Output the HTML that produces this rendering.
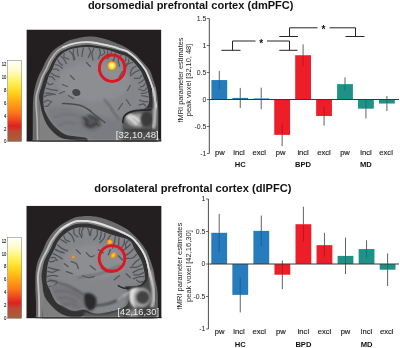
<!DOCTYPE html>
<html><head><meta charset="utf-8"><title>fMRI figure</title>
<style>html,body{margin:0;padding:0;background:#fff}svg{display:block}</style></head>
<body>
<svg width="400" height="348" viewBox="0 0 400 348" style="font-family:'Liberation Sans',sans-serif">
<defs>
<linearGradient id="cb" x1="0" y1="0" x2="0" y2="1">
<stop offset="0" stop-color="#ffffff"/>
<stop offset="0.14" stop-color="#fffbc0"/>
<stop offset="0.28" stop-color="#fff050"/>
<stop offset="0.40" stop-color="#ffd21a"/>
<stop offset="0.52" stop-color="#ffa514"/>
<stop offset="0.64" stop-color="#fb7a18"/>
<stop offset="0.74" stop-color="#ee4520"/>
<stop offset="0.81" stop-color="#dc2222"/>
<stop offset="0.88" stop-color="#bf4a34"/>
<stop offset="1" stop-color="#a0623f"/>
</linearGradient>
<radialGradient id="hot"><stop offset="0" stop-color="#fffde4"/><stop offset="0.35" stop-color="#fff060"/><stop offset="0.62" stop-color="#ffd21a"/><stop offset="0.82" stop-color="#ffa014" stop-opacity="0.95"/><stop offset="1" stop-color="#e86818" stop-opacity="0"/></radialGradient>
<radialGradient id="hot2"><stop offset="0" stop-color="#ffd428"/><stop offset="0.6" stop-color="#ffa216"/><stop offset="1" stop-color="#f07018" stop-opacity="0"/></radialGradient>
<radialGradient id="hot3"><stop offset="0" stop-color="#ffb01a"/><stop offset="0.5" stop-color="#f08a1a" stop-opacity="0.9"/><stop offset="1" stop-color="#e07018" stop-opacity="0"/></radialGradient>
<filter id="b0" x="-20%" y="-20%" width="140%" height="140%"><feGaussianBlur stdDeviation="0.35"/></filter>
<filter id="b1" x="-20%" y="-20%" width="140%" height="140%"><feGaussianBlur stdDeviation="0.6"/></filter>
<filter id="b2" x="-20%" y="-20%" width="140%" height="140%"><feGaussianBlur stdDeviation="1.2"/></filter>
<filter id="b3" x="-30%" y="-30%" width="160%" height="160%"><feGaussianBlur stdDeviation="2.2"/></filter>
<clipPath id="clipA"><rect x="0" y="0" width="135" height="112"/></clipPath>
<clipPath id="clipB"><rect x="0" y="0" width="135.3" height="112.6"/></clipPath>
</defs>
<rect width="400" height="348" fill="#fff"/>

<text x="190.7" y="9.3" text-anchor="middle" font-size="11.05" font-weight="bold" fill="#111">dorsomedial prefrontal cortex (dmPFC)</text>
<text x="192.8" y="191.5" text-anchor="middle" font-size="11.1" font-weight="bold" fill="#111">dorsolateral prefrontal cortex (dlPFC)</text>
<rect x="7.7" y="60.5" width="14.0" height="81" fill="url(#cb)" stroke="#777" stroke-width="0.5"/>
<text x="6.4" y="143.45" text-anchor="end" font-size="5.4" textLength="2.4" lengthAdjust="spacingAndGlyphs" fill="#151515" stroke="#151515" stroke-width="0.1">0</text>
<text x="6.4" y="130.50" text-anchor="end" font-size="5.4" textLength="2.4" lengthAdjust="spacingAndGlyphs" fill="#151515" stroke="#151515" stroke-width="0.1">2</text>
<text x="6.4" y="117.55" text-anchor="end" font-size="5.4" textLength="2.4" lengthAdjust="spacingAndGlyphs" fill="#151515" stroke="#151515" stroke-width="0.1">4</text>
<text x="6.4" y="104.60" text-anchor="end" font-size="5.4" textLength="2.4" lengthAdjust="spacingAndGlyphs" fill="#151515" stroke="#151515" stroke-width="0.1">6</text>
<text x="6.4" y="91.65" text-anchor="end" font-size="5.4" textLength="2.4" lengthAdjust="spacingAndGlyphs" fill="#151515" stroke="#151515" stroke-width="0.1">8</text>
<text x="6.4" y="78.70" text-anchor="end" font-size="5.4" textLength="4.6" lengthAdjust="spacingAndGlyphs" fill="#151515" stroke="#151515" stroke-width="0.1">10</text>
<text x="6.4" y="65.75" text-anchor="end" font-size="5.4" textLength="4.6" lengthAdjust="spacingAndGlyphs" fill="#151515" stroke="#151515" stroke-width="0.1">12</text>
<rect x="7.7" y="237.3" width="14.0" height="81" fill="url(#cb)" stroke="#777" stroke-width="0.5"/>
<text x="6.4" y="320.25" text-anchor="end" font-size="5.4" textLength="2.4" lengthAdjust="spacingAndGlyphs" fill="#151515" stroke="#151515" stroke-width="0.1">0</text>
<text x="6.4" y="307.30" text-anchor="end" font-size="5.4" textLength="2.4" lengthAdjust="spacingAndGlyphs" fill="#151515" stroke="#151515" stroke-width="0.1">2</text>
<text x="6.4" y="294.35" text-anchor="end" font-size="5.4" textLength="2.4" lengthAdjust="spacingAndGlyphs" fill="#151515" stroke="#151515" stroke-width="0.1">4</text>
<text x="6.4" y="281.40" text-anchor="end" font-size="5.4" textLength="2.4" lengthAdjust="spacingAndGlyphs" fill="#151515" stroke="#151515" stroke-width="0.1">6</text>
<text x="6.4" y="268.45" text-anchor="end" font-size="5.4" textLength="2.4" lengthAdjust="spacingAndGlyphs" fill="#151515" stroke="#151515" stroke-width="0.1">8</text>
<text x="6.4" y="255.50" text-anchor="end" font-size="5.4" textLength="4.6" lengthAdjust="spacingAndGlyphs" fill="#151515" stroke="#151515" stroke-width="0.1">10</text>
<text x="6.4" y="242.55" text-anchor="end" font-size="5.4" textLength="4.6" lengthAdjust="spacingAndGlyphs" fill="#151515" stroke="#151515" stroke-width="0.1">12</text>
<g transform="translate(26.4,29.5)" clip-path="url(#clipA)">
<rect x="0" y="0" width="135" height="112" fill="#231f20"/>
<path d="M6.3 116.0C6.3 111.7 6.4 96.8 6.4 90.0C6.4 83.2 6.4 79.1 6.5 75.0C6.6 70.9 6.8 68.8 7.2 65.5C7.6 62.2 8.3 58.7 9.1 55.5C9.9 52.3 11.1 49.2 12.2 46.5C13.3 43.8 14.5 42.2 15.8 39.5C17.1 36.8 18.2 33.6 20.1 30.5C22.0 27.4 24.2 23.6 27.1 20.8C30.0 18.0 34.7 15.5 37.5 13.8C40.3 12.1 41.9 11.4 44.0 10.6C46.1 9.8 48.0 9.4 50.0 8.9C52.0 8.4 54.0 8.0 56.0 7.7C58.0 7.4 59.9 7.2 62.0 7.1C64.1 7.0 65.4 6.8 68.6 7.3C71.8 7.8 77.6 9.2 81.0 10.2C84.4 11.2 86.2 12.1 89.0 13.3C91.8 14.5 95.1 15.6 98.1 17.2C101.1 18.8 104.2 20.8 107.0 23.0C109.8 25.2 111.9 27.6 114.6 30.5C117.3 33.4 121.1 37.3 123.1 40.5C125.1 43.7 125.5 46.6 126.6 49.5C127.6 52.4 128.7 55.1 129.4 58.0C130.1 60.9 130.6 63.7 131.0 67.0C131.4 70.3 131.7 74.2 131.8 78.0C131.9 81.8 131.9 83.7 131.8 90.0C131.8 96.3 131.6 111.7 131.5 116.0Z" fill="#6a6a6a" filter="url(#b1)"/>
<path d="M11.2 116.0C11.1 111.7 10.9 96.8 10.6 90.0C10.3 83.2 9.7 79.1 9.6 75.0C9.5 70.9 9.5 68.8 10.1 65.5C10.7 62.2 12.1 58.7 13.1 55.5C14.1 52.3 15.0 49.1 16.1 46.5C17.2 43.9 18.3 42.7 19.6 40.0C20.9 37.3 22.2 33.6 24.1 30.5C26.0 27.4 28.8 23.7 30.8 21.6C32.8 19.6 33.9 19.3 36.0 18.2C38.1 17.1 40.8 15.9 43.6 15.0C46.4 14.1 50.3 13.4 53.0 13.0C55.7 12.6 57.8 12.5 60.0 12.5C62.2 12.5 63.5 12.6 66.0 12.9C68.5 13.2 71.7 13.9 74.9 14.6C78.1 15.2 81.9 16.0 85.0 16.8C88.1 17.6 91.2 18.6 93.6 19.4C96.0 20.1 97.8 20.4 99.6 21.3C101.4 22.2 102.6 23.1 104.5 24.6C106.4 26.1 108.7 27.9 111.1 30.5C113.5 33.1 117.1 37.3 119.1 40.5C121.1 43.7 121.9 46.6 123.1 49.5C124.3 52.4 125.2 55.1 126.1 58.0C126.9 60.9 127.6 63.7 128.2 67.0C128.8 70.3 129.5 73.2 129.8 78.0C130.1 82.8 130.0 89.7 130.0 96.0C130.0 102.3 130.0 112.7 130.0 116.0Z" fill="#7e7e7e" filter="url(#b1)"/>
<path d="M13.3 116.0C13.3 111.7 13.4 96.8 13.3 90.0C13.2 83.2 13.0 79.1 12.9 75.0C12.8 70.9 12.4 68.8 12.8 65.5C13.2 62.2 14.6 58.8 15.6 55.5C16.6 52.2 17.7 48.6 18.8 46.0C19.9 43.4 21.0 42.6 22.4 40.0C23.8 37.4 25.3 33.3 27.1 30.5C28.9 27.7 31.1 24.8 33.2 23.0C35.3 21.2 37.2 20.5 39.5 19.5C41.8 18.5 44.4 17.7 47.0 17.1C49.6 16.5 52.4 16.0 55.0 15.7C57.6 15.4 59.1 15.1 62.4 15.3C65.7 15.5 71.2 16.3 75.0 16.9C78.8 17.5 81.9 18.2 85.0 19.0C88.1 19.8 91.2 20.7 93.6 21.4C96.0 22.1 97.8 22.4 99.6 23.2C101.4 24.0 102.5 24.7 104.3 26.0C106.1 27.3 108.1 28.7 110.4 31.2C112.8 33.7 116.4 38.1 118.4 41.2C120.4 44.3 121.2 47.1 122.4 50.0C123.6 52.9 124.6 55.5 125.4 58.4C126.2 61.3 126.9 64.0 127.5 67.3C128.1 70.6 128.7 73.4 129.0 78.0C129.3 82.6 129.2 88.7 129.2 95.0C129.2 101.3 129.2 112.5 129.2 116.0Z" fill="#303030" filter="url(#b1)"/>
<path d="M11.2 116.0C11.1 111.7 10.9 96.8 10.6 90.0C10.3 83.2 9.7 79.1 9.6 75.0C9.5 70.9 9.5 68.8 10.1 65.5C10.7 62.2 12.1 58.7 13.1 55.5C14.1 52.3 15.0 49.1 16.1 46.5C17.2 43.9 18.3 42.7 19.6 40.0C20.9 37.3 22.2 33.6 24.1 30.5C26.0 27.4 28.8 23.7 30.8 21.6C32.8 19.6 33.9 19.3 36.0 18.2C38.1 17.1 40.8 15.9 43.6 15.0C46.4 14.1 50.3 13.4 53.0 13.0C55.7 12.6 57.8 12.5 60.0 12.5C62.2 12.5 63.5 12.6 66.0 12.9C68.5 13.2 71.7 13.9 74.9 14.6C78.1 15.2 81.9 16.0 85.0 16.8C88.1 17.6 91.2 18.6 93.6 19.4C96.0 20.1 97.8 20.4 99.6 21.3C101.4 22.2 102.6 23.1 104.5 24.6C106.4 26.1 108.7 27.9 111.1 30.5C113.5 33.1 117.1 37.3 119.1 40.5C121.1 43.7 121.9 46.6 123.1 49.5C124.3 52.4 125.2 55.1 126.1 58.0C126.9 60.9 127.6 63.7 128.2 67.0C128.8 70.3 129.5 73.2 129.8 78.0C130.1 82.8 130.0 93.0 130.0 96.0" fill="none" stroke="#b6b6b6" stroke-width="1.5" filter="url(#b1)"/>
<path d="M36.0 18.2C37.3 17.7 40.8 15.9 43.6 15.0C46.4 14.1 50.3 13.4 53.0 13.0C55.7 12.6 57.8 12.5 60.0 12.5C62.2 12.5 63.5 12.6 66.0 12.9C68.5 13.2 71.7 13.9 74.9 14.6C78.1 15.2 81.9 16.0 85.0 16.8C88.1 17.6 91.2 18.6 93.6 19.4C96.0 20.1 97.8 20.4 99.6 21.3C101.4 22.2 102.6 23.1 104.5 24.6C106.4 26.1 108.7 27.9 111.1 30.5C113.5 33.1 117.1 37.3 119.1 40.5C121.1 43.7 121.9 46.6 123.1 49.5C124.3 52.4 125.2 55.1 126.1 58.0C126.9 60.9 127.6 63.7 128.2 67.0C128.8 70.3 129.5 76.2 129.8 78.0" fill="none" stroke="#dcdcdc" stroke-width="1.6" filter="url(#b1)"/>
<path d="M17.1 75.0C16.8 72.1 16.7 68.8 17.1 65.5C17.5 62.2 18.7 58.8 19.6 55.5C20.5 52.2 21.6 48.5 22.6 46.0C23.6 43.5 24.4 43.1 25.6 40.5C26.9 37.9 28.4 33.2 30.1 30.5C31.9 27.8 33.6 25.8 36.1 24.0C38.6 22.2 41.9 20.6 45.0 19.6C48.1 18.6 52.1 18.2 55.0 17.8C57.9 17.4 59.1 17.3 62.4 17.5C65.7 17.7 71.2 18.6 75.0 19.2C78.8 19.8 82.0 20.5 85.0 21.4C88.0 22.3 90.6 23.6 93.0 24.4C95.4 25.2 97.5 25.3 99.6 26.4C101.7 27.5 103.4 28.8 105.8 31.2C108.2 33.5 111.8 37.5 113.8 40.5C115.8 43.5 116.6 46.4 117.8 49.5C119.0 52.6 120.4 55.7 121.2 59.2C122.0 62.8 123.0 67.9 122.8 71.0C122.6 74.1 121.8 76.3 120.0 78.0C118.2 79.7 114.6 80.3 112.0 81.0C109.4 81.7 106.6 81.2 104.4 82.0C102.2 82.8 100.2 83.0 99.0 86.0C97.8 89.0 95.7 97.0 97.5 100.0C99.3 103.0 104.9 103.3 110.0 104.0C115.1 104.7 125.0 102.0 128.0 104.0C131.0 106.0 137.7 114.0 128.0 116.0C118.3 118.0 81.3 117.2 70.0 116.0C58.7 114.8 63.3 110.0 60.0 108.5C56.7 107.0 53.7 107.7 50.0 107.0C46.3 106.3 41.9 106.5 38.0 104.5C34.1 102.5 29.7 98.6 26.5 95.0C23.3 91.4 20.6 86.3 19.0 83.0C17.4 79.7 17.4 77.9 17.1 75.0Z" fill="#85868a" filter="url(#b1)"/>
<ellipse cx="68" cy="52" rx="36" ry="20" fill="#8f9094" opacity="0.8" filter="url(#b3)"/>
<path d="M12.9 68.0C13.1 69.5 13.7 74.2 14.3 77.0C14.9 79.8 15.1 81.8 16.3 85.0C17.5 88.2 18.7 92.8 21.5 96.5C24.3 100.2 28.8 105.1 33.0 107.5C37.2 109.9 42.5 110.0 47.0 110.8C51.5 111.6 55.8 111.6 60.0 112.5C64.2 113.4 70.0 115.4 72.0 116.0L12.9 116Z" fill="#808080" filter="url(#b1)"/>
<path d="M18.4 76.8C18.9 76.8 20.3 77.2 21.2 76.6C22.1 76.0 23.4 73.9 23.9 73.3M17.9 72.5C18.5 72.2 20.0 70.9 21.3 70.9C22.6 70.9 24.8 72.3 25.5 72.5M17.9 67.0C18.5 66.7 20.2 65.8 21.5 65.5C22.8 65.2 25.2 65.2 25.9 65.2M18.4 63.7C19.2 63.7 21.7 63.3 23.4 63.6C25.2 63.8 28.0 64.8 28.9 65.1M19.6 58.7C20.5 59.0 22.8 59.9 24.7 60.2C26.5 60.6 29.7 60.9 30.8 61.0M21.2 53.2C21.5 53.6 22.1 55.1 23.0 55.2C23.9 55.3 26.1 54.2 26.7 54.0M23.0 47.2C23.5 47.3 24.8 46.8 25.7 47.4C26.6 47.9 27.9 49.9 28.3 50.4M24.8 43.6C25.4 44.0 26.8 45.4 28.2 46.0C29.5 46.7 32.2 47.2 33.0 47.4M26.8 39.9C27.2 39.8 28.7 39.2 29.6 39.4C30.5 39.6 31.9 40.7 32.4 41.0M28.9 35.1C29.5 35.3 31.3 35.4 32.4 36.0C33.6 36.6 35.4 38.3 36.0 38.7M31.4 30.3C31.7 30.8 32.2 32.3 33.0 33.2C33.8 34.1 35.5 35.3 36.1 35.8M34.6 26.8C35.1 27.3 36.6 28.4 37.5 29.7C38.4 30.9 39.6 33.4 40.0 34.1M37.9 24.0C37.8 24.6 36.9 26.7 37.7 27.6C38.5 28.5 41.7 29.3 42.5 29.6M43.0 21.5C43.5 22.1 45.4 23.6 46.2 25.1C47.0 26.6 47.3 29.6 47.5 30.5M47.1 20.0C47.1 20.8 46.7 22.9 47.0 24.5C47.2 26.1 48.3 28.6 48.5 29.5M51.1 19.3C51.1 19.9 50.9 21.4 51.0 22.6C51.2 23.8 51.8 25.9 52.0 26.5M57.1 18.5C57.0 19.1 56.3 20.9 56.1 22.2C55.8 23.6 55.6 26.0 55.5 26.8M62.4 18.3C62.7 19.0 64.3 21.0 64.2 22.6C64.1 24.2 62.3 27.0 61.9 27.8M67.3 19.0C67.0 19.8 65.6 22.3 65.5 24.2C65.4 26.1 66.5 29.6 66.7 30.7M72.9 19.7C73.1 20.5 74.2 22.7 74.0 24.3C73.8 25.9 72.1 28.4 71.8 29.2M77.3 20.5C77.5 21.0 78.7 22.5 78.3 23.4C77.9 24.3 75.5 25.6 74.9 26.1M81.3 21.4C81.3 21.9 81.6 23.4 81.1 24.4C80.6 25.5 78.7 27.2 78.3 27.7M85.2 22.3C84.9 22.9 84.5 24.5 83.7 25.7C83.0 26.9 81.3 28.7 80.8 29.3M89.0 23.7C88.8 24.6 88.5 27.0 87.9 28.7C87.4 30.4 85.9 33.1 85.5 34.0M94.8 25.8C94.3 26.5 92.0 28.3 91.8 30.2C91.5 32.0 92.9 35.6 93.1 36.7M99.4 27.2C99.4 27.7 99.7 29.2 99.4 30.3C99.1 31.3 97.8 33.0 97.5 33.6M102.4 29.6C102.3 30.2 102.6 32.2 102.0 33.1C101.3 34.0 99.1 34.9 98.5 35.3M106.2 32.9C105.5 33.1 103.3 33.4 102.1 34.3C100.9 35.1 99.4 37.4 98.9 38.0M109.5 36.8C108.9 37.1 106.9 37.8 105.9 39.0C105.0 40.3 104.2 43.4 103.8 44.3M112.9 40.6C112.1 41.0 109.8 41.7 108.4 42.7C107.0 43.7 104.9 45.7 104.2 46.3M115.4 46.0C114.9 46.5 114.0 48.3 112.8 48.8C111.5 49.2 108.8 48.7 108.0 48.7M117.2 50.3C116.9 50.5 116.1 51.5 115.3 52.0C114.5 52.6 112.9 53.3 112.4 53.5M118.6 54.2C118.3 54.6 117.7 56.1 116.9 56.6C116.1 57.2 114.4 57.3 113.8 57.4M120.1 58.5C119.7 59.0 118.8 61.1 117.5 61.3C116.2 61.4 113.3 59.8 112.4 59.5M120.8 62.4C120.4 62.6 119.3 63.4 118.3 63.7C117.3 63.9 115.4 63.9 114.8 63.9M121.5 67.5C121.1 67.4 119.8 66.9 118.8 66.6C117.7 66.4 115.9 66.3 115.3 66.2M121.5 72.1C120.8 72.1 118.8 72.3 117.4 72.1C116.0 71.8 113.8 70.9 113.1 70.6M119.6 76.8C119.2 76.4 118.4 74.7 117.2 74.5C116.1 74.3 113.4 75.4 112.7 75.6M36.0 55.0C36.8 55.3 40.2 56.7 41.0 57.0M44.0 46.0C44.7 46.7 47.3 49.3 48.0 50.0M100.0 70.0C100.7 71.0 103.3 75.0 104.0 76.0M92.0 80.0C92.7 79.0 95.3 75.0 96.0 74.0M33.0 64.0C33.8 63.7 37.2 62.3 38.0 62.0M96.0 42.0C95.5 42.8 93.5 46.2 93.0 47.0M60.0 33.0C60.7 33.7 63.3 36.3 64.0 37.0M74.0 36.0C73.7 36.8 72.3 40.2 72.0 41.0M104.0 56.0C103.5 56.8 101.5 60.2 101.0 61.0M42.0 66.0C42.8 66.5 46.2 68.5 47.0 69.0" fill="none" stroke="#56575b" stroke-width="1.3" stroke-linecap="round" stroke-linejoin="round" filter="url(#b1)"/>
<path d="M21 79C30 75.5 45 76.5 58 83C66 86 80 88 96 90L97 104L100 116H70L60 108.5C48 107 36 104 27 95.5C23 90.5 20.5 84 21 79Z" fill="#6c6c70" opacity="0.35" filter="url(#b3)"/>
<path d="M46.5 60.5C49 58.5 53 59.5 54 62.5C54.5 65.5 52 67 49.5 66.5C46.5 66 45 63 46.5 60.5Z" fill="#444" filter="url(#b1)"/>
<path d="M36.0 74.0C37.5 74.1 42.1 74.3 45.0 74.6C47.9 74.9 50.8 74.9 53.6 75.8C56.4 76.7 59.5 78.4 62.0 80.0C64.5 81.6 65.8 83.3 68.6 85.5C71.4 87.7 76.9 91.8 78.6 93.0" fill="none" stroke="#4c4c50" stroke-width="1.5" stroke-linecap="round" stroke-linejoin="round" filter="url(#b1)"/>
<path d="M28.0 88.0C29.7 87.5 34.3 85.3 38.0 85.0C41.7 84.7 46.7 85.2 50.0 86.0C53.3 86.8 56.7 89.3 58.0 90.0M32.0 96.0C33.3 95.5 37.0 93.3 40.0 93.0C43.0 92.7 48.3 93.8 50.0 94.0" fill="none" stroke="#6a6a6e" stroke-width="1.2" stroke-linecap="round" stroke-linejoin="round" filter="url(#b2)"/>
<ellipse cx="65" cy="93" rx="9" ry="6.5" fill="#56565a" filter="url(#b3)"/>
<path d="M57.0 88.0C57.7 88.5 60.5 89.8 61.0 91.0C61.5 92.2 59.3 94.0 60.0 95.0C60.7 96.0 63.5 97.2 65.0 97.0C66.5 96.8 67.7 94.2 69.0 94.0C70.3 93.8 72.3 95.7 73.0 96.0M62.0 86.0C62.8 86.3 65.3 87.2 67.0 88.0C68.7 88.8 71.2 90.5 72.0 91.0" fill="none" stroke="#333" stroke-width="1.6" stroke-linecap="round" stroke-linejoin="round" filter="url(#b2)"/>
<path d="M78.0 70.0C78.8 71.0 81.3 73.7 83.0 76.0C84.7 78.3 86.3 81.7 88.0 84.0C89.7 86.3 92.2 89.0 93.0 90.0" fill="none" stroke="#606064" stroke-width="1.5" stroke-linecap="round" stroke-linejoin="round" filter="url(#b2)"/>
<path d="M96 92C97 86 102 82 112 80.3L124 79L130 80L131 100L96 100Z" fill="#5a5a5a" filter="url(#b2)"/>
<path d="M99 88C102 85 110 83.6 116 84C115 88 114.5 92 116 97C110 98.5 104.5 97 101.5 94C99.5 92 98.5 89.5 99 88Z" fill="#9c9c9c" filter="url(#b2)"/>
<path d="M100.5 86.8C101.2 87.3 103.4 88.7 105.0 90.0C106.6 91.3 109.2 93.8 110.0 94.5M103.0 85.4C103.8 85.8 106.3 86.6 108.0 87.6C109.7 88.6 112.2 90.8 113.0 91.5" fill="none" stroke="#f0f0f0" stroke-width="2.0" stroke-linecap="round" stroke-linejoin="round" filter="url(#b2)"/>
<ellipse cx="120.3" cy="89.5" rx="5.8" ry="7.6" fill="#3a3a3a" filter="url(#b2)"/>
<path d="M96.3 93.0C96.5 92.0 96.6 88.7 97.6 87.0C98.6 85.3 100.4 84.0 102.5 83.0C104.6 82.0 106.3 81.4 110.0 80.9C113.7 80.5 122.1 80.4 124.5 80.3" fill="none" stroke="#242424" stroke-width="1.5" stroke-linecap="round" stroke-linejoin="round" filter="url(#b1)"/>
<path d="M96 99.5C106 103 118 103 130 98.5L131 116H95Z" fill="#4e4e4e" filter="url(#b2)"/>
<path d="M126.3 58.0C126.7 60.0 128.4 66.0 128.8 70.0C129.2 74.0 128.7 78.3 128.6 82.0C128.5 85.7 128.5 89.2 128.2 92.0C127.9 94.8 127.2 97.8 127.0 99.0" fill="none" stroke="#c4c4c4" stroke-width="3.2" filter="url(#b2)"/>
<rect x="6" y="110" width="130" height="0.9" fill="#9a9a9a" opacity="0.5"/>
<rect x="0" y="111" width="136" height="1.2" fill="#1c1c1c"/>
<circle cx="85.5" cy="36.2" r="4.9" fill="url(#hot)"/>
<ellipse cx="85.7" cy="38.7" rx="12.7" ry="13.2" fill="none" stroke="#df1420" stroke-width="2.9" filter="url(#b0)"/>
<text x="132.4" y="108.9" text-anchor="end" font-size="8.8" textLength="43" lengthAdjust="spacingAndGlyphs" fill="#ececec">[32,10,48]</text>
</g>
<g transform="translate(26.3,205.7)" clip-path="url(#clipB)">
<rect x="0" y="0" width="135.3" height="112.6" fill="#231f20"/>
<path d="M9.7 117.0C9.7 113.5 9.8 101.8 9.7 96.3C9.6 90.8 9.2 88.0 9.1 83.8C9.0 79.6 9.0 74.8 9.1 71.3C9.2 67.8 9.3 65.8 9.8 63.0C10.3 60.2 10.8 57.5 11.9 54.4C13.1 51.3 15.1 47.6 16.7 44.3C18.2 40.9 19.2 37.6 21.2 34.3C23.2 31.0 25.9 27.2 28.7 24.3C31.5 21.4 34.9 19.1 38.2 17.0C41.5 14.9 45.9 12.8 48.7 11.7C51.5 10.6 52.9 10.9 55.0 10.7C57.1 10.5 59.1 10.4 61.2 10.4C63.3 10.4 65.4 10.5 67.5 10.7C69.6 10.9 70.6 10.8 73.7 11.7C76.8 12.6 82.0 14.2 86.2 16.0C90.4 17.8 95.5 20.4 98.7 22.3C101.9 24.2 103.2 25.5 105.5 27.5C107.8 29.5 109.8 31.5 112.2 34.3C114.6 37.1 117.8 41.0 119.7 44.3C121.6 47.5 122.5 50.5 123.7 53.8C125.0 57.1 126.3 60.9 127.2 64.3C128.1 67.7 128.3 71.0 128.9 74.3C129.5 77.6 130.6 80.4 131.0 84.0C131.4 87.6 131.5 90.5 131.5 96.0C131.5 101.5 131.1 113.5 131.0 117.0Z" fill="#6c6c6c" filter="url(#b1)"/>
<path d="M12.8 117.0C12.8 113.5 12.9 101.8 12.8 96.3C12.7 90.8 12.4 88.0 12.2 83.8C12.0 79.6 11.5 74.8 11.6 71.3C11.7 67.8 12.2 65.8 12.8 63.0C13.5 60.2 14.2 57.5 15.5 54.4C16.8 51.3 19.0 47.6 20.7 44.3C22.4 40.9 23.5 37.6 25.7 34.3C27.9 31.0 31.2 26.8 33.7 24.3C36.2 21.8 38.5 20.8 41.0 19.4C43.5 18.0 46.4 16.5 48.7 15.8C51.0 15.1 52.9 15.3 55.0 15.2C57.1 15.1 59.1 15.2 61.2 15.4C63.3 15.6 65.4 15.9 67.5 16.3C69.6 16.7 70.6 16.9 73.7 17.9C76.8 18.9 82.0 20.6 86.2 22.3C90.4 24.0 95.8 26.5 98.7 27.9C101.6 29.3 101.9 29.5 103.5 30.6C105.1 31.7 106.2 32.0 108.2 34.3C110.2 36.6 113.7 41.0 115.7 44.3C117.7 47.5 119.0 50.5 120.2 53.8C121.4 57.1 121.9 60.9 122.7 64.3C123.5 67.7 124.4 71.0 125.2 74.3C126.0 77.6 126.8 80.4 127.3 84.0C127.8 87.6 127.9 90.5 128.0 96.0C128.1 101.5 128.0 113.5 128.0 117.0Z" fill="#828282" filter="url(#b1)"/>
<path d="M16.0 117.0C16.1 113.5 16.7 101.8 16.8 96.3C16.9 90.8 16.9 88.0 16.6 83.8C16.4 79.6 15.4 74.8 15.3 71.3C15.2 67.8 15.7 65.8 16.2 63.0C16.7 60.2 17.1 57.5 18.4 54.4C19.6 51.3 22.0 47.6 23.7 44.3C25.4 40.9 26.4 37.6 28.7 34.3C30.9 31.0 34.8 26.5 37.2 24.3C39.6 22.1 41.1 22.0 43.0 21.0C44.9 20.0 46.7 19.0 48.7 18.5C50.7 18.0 52.9 17.9 55.0 17.8C57.1 17.7 59.1 17.7 61.2 17.9C63.3 18.1 65.4 18.5 67.5 19.0C69.6 19.5 70.6 19.9 73.7 20.8C76.8 21.7 82.0 23.2 86.2 24.6C90.4 26.0 95.9 27.9 98.7 29.0C101.5 30.1 101.5 30.2 103.0 31.2C104.5 32.2 105.5 32.7 107.5 35.0C109.5 37.3 113.0 41.8 115.0 45.0C117.0 48.2 118.2 50.8 119.4 54.0C120.6 57.2 121.1 61.1 121.9 64.5C122.7 67.9 123.5 71.2 124.2 74.5C124.9 77.8 125.8 80.4 126.3 84.0C126.8 87.6 126.9 90.5 127.0 96.0C127.1 101.5 127.0 113.5 127.0 117.0Z" fill="#313131" filter="url(#b1)"/>
<path d="M12.8 117.0C12.8 113.5 12.9 101.8 12.8 96.3C12.7 90.8 12.4 88.0 12.2 83.8C12.0 79.6 11.5 74.8 11.6 71.3C11.7 67.8 12.2 65.8 12.8 63.0C13.5 60.2 14.2 57.5 15.5 54.4C16.8 51.3 19.0 47.6 20.7 44.3C22.4 40.9 23.5 37.6 25.7 34.3C27.9 31.0 31.2 26.8 33.7 24.3C36.2 21.8 38.5 20.8 41.0 19.4C43.5 18.0 46.4 16.5 48.7 15.8C51.0 15.1 52.9 15.3 55.0 15.2C57.1 15.1 59.1 15.2 61.2 15.4C63.3 15.6 65.4 15.9 67.5 16.3C69.6 16.7 70.6 16.9 73.7 17.9C76.8 18.9 82.0 20.6 86.2 22.3C90.4 24.0 95.8 26.5 98.7 27.9C101.6 29.3 101.9 29.5 103.5 30.6C105.1 31.7 106.2 32.0 108.2 34.3C110.2 36.6 113.7 41.0 115.7 44.3C117.7 47.5 119.0 50.5 120.2 53.8C121.4 57.1 121.9 60.9 122.7 64.3C123.5 67.7 124.4 71.0 125.2 74.3C126.0 77.6 126.8 80.4 127.3 84.0C127.8 87.6 127.9 94.0 128.0 96.0" fill="none" stroke="#c4c4c4" stroke-width="1.8" filter="url(#b1)"/>
<path d="M33.7 24.3C34.9 23.5 38.5 20.8 41.0 19.4C43.5 18.0 46.4 16.5 48.7 15.8C51.0 15.1 52.9 15.3 55.0 15.2C57.1 15.1 59.1 15.2 61.2 15.4C63.3 15.6 65.4 15.9 67.5 16.3C69.6 16.7 70.6 16.9 73.7 17.9C76.8 18.9 82.0 20.6 86.2 22.3C90.4 24.0 95.8 26.5 98.7 27.9C101.6 29.3 101.9 29.5 103.5 30.6C105.1 31.7 106.2 32.0 108.2 34.3C110.2 36.6 113.7 41.0 115.7 44.3C117.7 47.5 119.0 50.5 120.2 53.8C121.4 57.1 121.9 60.9 122.7 64.3C123.5 67.7 124.4 71.0 125.2 74.3C126.0 77.6 127.0 82.4 127.3 84.0" fill="none" stroke="#e0e0e0" stroke-width="1.8" filter="url(#b1)"/>
<path d="M20.4 77.0C19.9 74.9 20.2 73.6 20.3 71.3C20.4 69.0 20.4 65.8 20.8 63.0C21.2 60.2 21.6 57.5 22.7 54.4C23.8 51.3 26.0 47.6 27.7 44.3C29.4 40.9 30.5 37.3 32.7 34.3C34.9 31.3 38.0 28.5 40.7 26.5C43.4 24.5 46.3 23.3 48.7 22.5C51.1 21.7 52.9 21.9 55.0 21.8C57.1 21.7 59.1 21.6 61.2 21.8C63.3 22.0 65.4 22.5 67.5 23.0C69.6 23.5 70.6 23.8 73.7 24.9C76.8 25.9 81.4 27.7 86.2 29.3C91.0 30.9 99.0 32.0 102.7 34.5C106.5 37.0 106.7 41.0 108.7 44.3C110.7 47.6 113.2 51.0 114.7 54.3C116.2 57.6 117.1 61.2 117.7 64.3C118.3 67.4 118.8 70.6 118.6 73.0C118.4 75.4 117.9 77.3 116.5 78.5C115.1 79.7 112.1 80.0 110.0 80.3C107.9 80.6 105.8 80.5 104.0 80.6C102.2 80.7 99.4 80.3 99.0 81.0C98.6 81.7 100.9 83.0 101.5 85.0C102.1 87.0 102.8 90.5 102.5 93.0C102.2 95.5 102.1 98.1 100.0 100.0C97.9 101.9 95.0 103.2 90.0 104.5C85.0 105.8 75.4 108.1 70.0 108.0C64.6 107.9 61.3 104.3 57.5 103.8C53.7 103.3 50.4 105.5 47.0 105.0C43.6 104.5 40.2 102.2 37.3 100.7C34.4 99.2 32.0 99.1 29.7 96.3C27.4 93.5 24.9 87.0 23.4 83.8C21.8 80.6 20.9 79.1 20.4 77.0Z" fill="#85868a" filter="url(#b1)"/>
<ellipse cx="68" cy="56" rx="32" ry="17" fill="#8f9094" opacity="0.8" filter="url(#b3)"/>
<path d="M16.6 84.0C16.9 85.2 17.4 88.7 18.5 91.0C19.6 93.3 21.3 95.6 23.4 98.0C25.5 100.4 28.1 103.4 31.0 105.5C33.9 107.6 37.5 109.5 41.0 110.5C44.5 111.5 48.8 111.6 52.0 111.5C55.2 111.4 58.0 109.1 60.0 110.0C62.0 110.9 63.3 115.8 64.0 117.0L16.5 117Z" fill="#7e7e7e" filter="url(#b1)"/>
<path d="M58 106C70 111 88 108 97 102L100 117H58Z" fill="#5e5e5e" filter="url(#b2)"/>
<path d="M22.8 80.6C23.6 80.5 25.8 81.0 27.1 80.3C28.5 79.7 30.2 77.4 30.9 76.9M21.2 75.9C21.9 75.7 23.8 74.8 25.3 74.7C26.8 74.7 29.4 75.7 30.2 75.8M21.1 70.8C21.9 70.6 24.3 69.7 26.0 69.7C27.7 69.6 30.6 70.4 31.5 70.6M21.4 65.6C22.2 65.8 24.5 66.9 26.2 66.6C28.0 66.4 31.0 64.7 32.0 64.3M21.9 61.7C22.8 61.9 25.2 62.9 27.0 63.3C28.9 63.8 32.0 64.4 33.0 64.6M23.3 55.6C23.6 55.7 24.5 56.3 25.4 56.2C26.4 56.0 28.3 55.1 28.8 54.8M24.8 52.0C25.4 52.0 27.2 51.3 28.2 51.8C29.2 52.3 30.5 54.4 30.9 54.9M26.8 47.9C27.6 48.2 29.7 49.2 31.2 50.1C32.8 51.0 35.3 52.7 36.1 53.2M28.9 43.7C29.5 44.1 31.3 45.0 32.8 45.6C34.3 46.1 37.0 46.9 37.8 47.1M31.1 39.2C31.9 39.8 33.8 41.7 35.5 42.7C37.1 43.7 40.2 44.8 41.2 45.2M34.3 33.8C34.8 34.1 35.9 34.8 37.0 35.4C38.0 36.0 39.8 37.0 40.4 37.3M37.6 30.6C37.9 31.2 38.2 33.1 39.2 34.0C40.1 34.9 42.7 35.5 43.4 35.9M42.0 26.7C42.6 27.3 44.8 28.9 45.8 30.4C46.8 31.9 47.6 34.9 47.9 35.8M47.6 23.9C47.7 24.6 47.1 26.8 47.8 28.0C48.4 29.2 51.1 30.6 51.7 31.1M53.5 22.8C53.4 23.5 52.6 25.6 53.0 27.1C53.3 28.6 55.1 31.1 55.5 31.9M57.1 22.6C56.8 23.1 55.6 24.7 55.4 25.9C55.2 27.1 55.8 29.3 55.9 30.0M61.2 22.6C61.4 23.1 62.3 24.5 62.6 25.6C63.0 26.7 63.1 28.8 63.1 29.4M65.3 23.4C65.1 23.8 64.7 25.0 64.5 26.1C64.4 27.1 64.3 29.1 64.3 29.7M70.9 24.9C70.9 25.7 71.4 28.1 70.8 29.6C70.2 31.2 67.9 33.4 67.4 34.2M74.9 26.2C74.8 26.8 74.9 28.6 74.7 29.9C74.4 31.2 73.4 33.3 73.2 34.0M78.7 27.5C78.6 28.3 78.6 30.7 77.8 32.3C76.9 33.8 74.4 36.0 73.7 36.8M84.5 29.5C84.1 30.0 82.7 31.2 82.1 32.4C81.6 33.6 81.5 36.0 81.3 36.7M88.9 31.0C88.8 31.9 88.6 34.6 88.2 36.5C87.8 38.4 86.7 41.4 86.4 42.4M92.8 32.2C92.7 32.8 92.5 34.3 92.5 35.5C92.4 36.8 92.4 39.1 92.3 39.8M98.1 33.9C98.0 34.6 98.3 36.7 97.7 38.1C97.2 39.5 95.4 41.6 95.0 42.3M102.0 35.1C101.5 35.6 99.7 36.8 99.3 38.1C98.9 39.4 99.5 42.1 99.6 42.9M104.2 38.5C103.6 39.1 101.9 40.9 100.5 42.1C99.1 43.2 96.5 44.9 95.8 45.4M107.2 43.4C106.6 43.9 104.9 45.6 103.5 46.7C102.2 47.8 99.7 49.5 98.9 50.0M110.4 48.6C109.7 49.2 108.2 51.6 106.4 52.3C104.6 53.0 100.8 52.7 99.6 52.7M113.2 53.4C112.7 53.8 111.0 54.8 109.8 55.8C108.7 56.8 106.9 59.0 106.3 59.6M115.3 59.0C114.5 59.4 112.3 61.1 110.5 61.5C108.6 61.9 105.1 61.5 104.1 61.5M116.5 63.0C115.7 63.2 113.4 63.4 111.7 64.1C110.1 64.7 107.5 66.5 106.6 66.9M117.2 66.9C116.4 67.3 114.4 68.6 112.8 69.0C111.2 69.3 108.4 69.1 107.5 69.1M117.6 71.0C116.8 71.1 114.4 70.8 112.6 71.1C110.8 71.5 107.9 72.8 107.0 73.1M116.7 75.7C116.2 75.8 114.5 76.5 113.4 76.3C112.3 76.1 110.8 74.7 110.2 74.3M45.0 56.0C45.8 56.3 48.8 56.8 50.0 58.0C51.2 59.2 51.7 62.2 52.0 63.0M60.0 47.0C60.7 47.7 62.7 50.5 64.0 51.0C65.3 51.5 67.3 50.2 68.0 50.0M40.0 66.0C41.0 66.3 45.0 67.7 46.0 68.0M75.0 62.0C75.8 62.7 78.2 65.3 80.0 66.0C81.8 66.7 85.0 66.0 86.0 66.0M88.0 74.0C88.8 73.3 92.2 70.7 93.0 70.0M64.0 60.0C64.8 60.7 68.2 63.3 69.0 64.0M50.0 44.0C50.7 44.7 53.3 47.3 54.0 48.0M72.0 44.0C72.8 44.5 76.2 46.5 77.0 47.0M56.0 70.0C57.0 70.3 60.0 71.8 62.0 72.0C64.0 72.2 67.0 71.2 68.0 71.0M100.0 68.0C100.7 68.7 103.3 71.3 104.0 72.0M92.0 50.0C92.7 50.7 95.3 53.3 96.0 54.0M38.0 58.0C38.7 58.5 41.3 60.5 42.0 61.0M84.0 44.0C83.7 44.8 82.3 48.2 82.0 49.0" fill="none" stroke="#525357" stroke-width="1.3" stroke-linecap="round" stroke-linejoin="round" filter="url(#b1)"/>
<path d="M52.0 72.0C53.7 71.7 58.3 70.7 62.0 70.0C65.7 69.3 70.0 69.2 74.0 68.0C78.0 66.8 82.7 64.3 86.0 63.0C89.3 61.7 92.7 60.5 94.0 60.0" fill="none" stroke="#606064" stroke-width="1.4" stroke-linecap="round" stroke-linejoin="round" filter="url(#b2)"/>
<path d="M24 80C30 78 40 80 50 84C56 87 60 92 60 100C56 105 48 106 40 102C32 98 26 90 24 80Z" fill="#77777b" filter="url(#b2)"/>
<path d="M22.5 74.0C24.1 74.5 28.4 75.8 32.0 77.0C35.6 78.2 39.8 79.0 44.0 81.0C48.2 83.0 55.2 87.7 57.5 89.0" fill="none" stroke="#505054" stroke-width="1.5" stroke-linecap="round" stroke-linejoin="round" filter="url(#b2)"/>
<path d="M28.0 86.0C29.7 85.8 34.7 84.7 38.0 85.0C41.3 85.3 45.2 86.7 48.0 88.0C50.8 89.3 53.8 92.2 55.0 93.0M31.0 93.0C32.5 92.8 36.8 91.5 40.0 92.0C43.2 92.5 48.3 95.3 50.0 96.0M36.0 99.0C37.3 98.8 41.3 97.7 44.0 98.0C46.7 98.3 50.7 100.5 52.0 101.0" fill="none" stroke="#626266" stroke-width="1.1" stroke-linecap="round" stroke-linejoin="round" filter="url(#b2)"/>
<path d="M58 88C62 86 68 88 70 93C71 98 69 104 64 105C60 104 57 98 58 88Z" fill="#2c2c2c" filter="url(#b2)"/>
<path d="M68.0 100.0C70.0 99.8 76.3 99.3 80.0 98.5C83.7 97.7 87.2 96.2 90.0 95.0C92.8 93.8 95.4 91.9 96.5 91.3" fill="none" stroke="#333" stroke-width="1.5" stroke-linecap="round" stroke-linejoin="round" filter="url(#b2)"/>
<path d="M100 83C108 82.5 115 81 119 76L122 72L128 80L128.5 104L100 104C103 98 103 90 100 83Z" fill="#4a4a4a" filter="url(#b3)"/>
<path d="M92.0 80.0C92.8 80.4 95.2 81.9 97.0 82.3C98.8 82.7 101.0 82.7 103.0 82.6C105.0 82.5 107.0 82.1 109.0 81.6C111.0 81.1 113.2 80.8 115.0 79.6C116.8 78.4 118.8 75.3 119.5 74.5" fill="none" stroke="#2a2a2a" stroke-width="1.5" stroke-linecap="round" stroke-linejoin="round" filter="url(#b1)"/>
<path d="M91.5 94.5C92.4 93.8 95.1 91.9 97.0 90.5C98.9 89.1 101.8 87.0 102.7 86.3" fill="none" stroke="#b8b8b8" stroke-width="2.0" stroke-linecap="round" stroke-linejoin="round" filter="url(#b2)"/>
<circle cx="114.6" cy="91.8" r="10" fill="#a2a2a2" filter="url(#b2)"/>
<path d="M103.5 84.5C106 82 110 81.5 113 82.5C109 84.5 107.5 88.5 107.3 92C107.3 96 108.5 100 111 103C106.5 102 103.5 97 103 92C102.8 89 103 86.5 103.5 84.5Z" fill="#dedede" filter="url(#b2)"/>
<circle cx="116.6" cy="91.6" r="6.6" fill="#424242" filter="url(#b2)"/>
<path d="M122.7 64.3C123.1 66.0 124.5 71.0 125.2 74.3C125.9 77.6 126.7 80.7 127.0 84.0C127.3 87.3 127.5 91.0 127.2 94.0C127.0 97.0 125.8 100.7 125.5 102.0" fill="none" stroke="#c2c2c2" stroke-width="3.2" filter="url(#b2)"/>
<path d="M97 103.5C106 106.5 118 106.5 129 101.5L130.5 117H97Z" fill="#424242" filter="url(#b2)"/>
<ellipse cx="107" cy="108" rx="5" ry="4" fill="#9a9a9a" filter="url(#b3)"/>
<rect x="9" y="110.6" width="122" height="0.9" fill="#9a9a9a" opacity="0.45"/>
<rect x="0" y="111.6" width="136" height="1.2" fill="#1c1c1c"/>
<ellipse cx="83.4" cy="36.3" rx="3.5" ry="3.1" fill="url(#hot2)"/>
<ellipse cx="87.0" cy="49.6" rx="4.1" ry="2.9" transform="rotate(-55 87 49.6)" fill="url(#hot2)"/>
<circle cx="47" cy="51.3" r="2.4" fill="url(#hot3)"/>
<ellipse cx="85.7" cy="52.7" rx="12.8" ry="12.8" fill="none" stroke="#df1420" stroke-width="2.9" filter="url(#b0)"/>
<text x="132.70000000000002" y="109.5" text-anchor="end" font-size="9.2" textLength="41.6" lengthAdjust="spacingAndGlyphs" fill="#ececec">[42,16,30]</text>
</g>
<text transform="translate(183.0,80) rotate(-90)" text-anchor="middle" font-size="7.4" fill="#262626">fMRI parameter estimates</text>
<text transform="translate(191.3,80) rotate(-90)" text-anchor="middle" font-size="7.4" fill="#262626">peak voxel [32,10, 48]</text>
<text transform="translate(182.3,266.1) rotate(-90)" text-anchor="middle" font-size="7.55" fill="#262626">fMRI parameter estimates</text>
<text transform="translate(190.6,266.1) rotate(-90)" text-anchor="middle" font-size="7.55" fill="#262626">peak voxel [42,16,30]</text>
<line x1="209.3" y1="18.50" x2="209.3" y2="153.50" stroke="#4a4a4a" stroke-width="1"/>
<line x1="206.8" y1="18.50" x2="209.3" y2="18.50" stroke="#4a4a4a" stroke-width="0.8"/>
<text x="206.3" y="20.95" text-anchor="end" font-size="6.9" fill="#222">1.5</text>
<line x1="206.8" y1="45.50" x2="209.3" y2="45.50" stroke="#4a4a4a" stroke-width="0.8"/>
<text x="206.3" y="47.95" text-anchor="end" font-size="6.9" fill="#222">1</text>
<line x1="206.8" y1="72.50" x2="209.3" y2="72.50" stroke="#4a4a4a" stroke-width="0.8"/>
<text x="206.3" y="74.95" text-anchor="end" font-size="6.9" fill="#222">0.5</text>
<line x1="206.8" y1="99.50" x2="209.3" y2="99.50" stroke="#4a4a4a" stroke-width="0.8"/>
<text x="206.3" y="101.95" text-anchor="end" font-size="6.9" fill="#222">0</text>
<line x1="206.8" y1="126.50" x2="209.3" y2="126.50" stroke="#4a4a4a" stroke-width="0.8"/>
<text x="206.3" y="128.95" text-anchor="end" font-size="6.9" fill="#222">-0.5</text>
<line x1="206.8" y1="153.50" x2="209.3" y2="153.50" stroke="#4a4a4a" stroke-width="0.8"/>
<text x="206.3" y="155.95" text-anchor="end" font-size="6.9" fill="#222">-1</text>
<rect x="211.40" y="80.06" width="15.8" height="19.44" fill="#267cbc"/>
<rect x="232.35" y="97.88" width="15.8" height="1.62" fill="#267cbc"/>
<rect x="253.30" y="98.42" width="15.8" height="1.08" fill="#267cbc"/>
<rect x="274.25" y="99.50" width="15.8" height="35.37" fill="#ed1e27"/>
<rect x="295.20" y="55.22" width="15.8" height="44.28" fill="#ed1e27"/>
<rect x="316.15" y="99.50" width="15.8" height="16.47" fill="#ed1e27"/>
<rect x="337.10" y="84.11" width="15.8" height="15.39" fill="#1f9287"/>
<rect x="358.05" y="99.50" width="15.8" height="9.18" fill="#1f9287"/>
<rect x="379.00" y="99.50" width="15.8" height="4.05" fill="#1f9287"/>
<line x1="209.3" y1="99.5" x2="399" y2="99.5" stroke="#3a3a3a" stroke-width="1"/>
<line x1="219.30" y1="70.88" x2="219.30" y2="80.06" stroke="#505050" stroke-width="0.9"/>
<line x1="219.30" y1="80.06" x2="219.30" y2="89.24" stroke="#000" stroke-opacity="0.24" stroke-width="0.95"/>
<line x1="240.25" y1="87.89" x2="240.25" y2="97.88" stroke="#505050" stroke-width="0.9"/>
<line x1="240.25" y1="99.50" x2="240.25" y2="107.87" stroke="#505050" stroke-width="0.9"/>
<line x1="240.25" y1="97.88" x2="240.25" y2="99.50" stroke="#000" stroke-opacity="0.24" stroke-width="0.95"/>
<line x1="261.20" y1="87.62" x2="261.20" y2="98.42" stroke="#505050" stroke-width="0.9"/>
<line x1="261.20" y1="99.50" x2="261.20" y2="109.22" stroke="#505050" stroke-width="0.9"/>
<line x1="261.20" y1="98.42" x2="261.20" y2="99.50" stroke="#000" stroke-opacity="0.24" stroke-width="0.95"/>
<line x1="282.15" y1="134.87" x2="282.15" y2="146.21" stroke="#505050" stroke-width="0.9"/>
<line x1="282.15" y1="123.53" x2="282.15" y2="134.87" stroke="#000" stroke-opacity="0.24" stroke-width="0.95"/>
<line x1="303.10" y1="44.42" x2="303.10" y2="55.22" stroke="#505050" stroke-width="0.9"/>
<line x1="303.10" y1="55.22" x2="303.10" y2="66.02" stroke="#000" stroke-opacity="0.24" stroke-width="0.95"/>
<line x1="324.05" y1="115.97" x2="324.05" y2="125.69" stroke="#505050" stroke-width="0.9"/>
<line x1="324.05" y1="106.25" x2="324.05" y2="115.97" stroke="#000" stroke-opacity="0.24" stroke-width="0.95"/>
<line x1="345.00" y1="77.36" x2="345.00" y2="84.11" stroke="#505050" stroke-width="0.9"/>
<line x1="345.00" y1="84.11" x2="345.00" y2="90.86" stroke="#000" stroke-opacity="0.24" stroke-width="0.95"/>
<line x1="365.95" y1="98.96" x2="365.95" y2="99.50" stroke="#505050" stroke-width="0.9"/>
<line x1="365.95" y1="108.68" x2="365.95" y2="118.40" stroke="#505050" stroke-width="0.9"/>
<line x1="365.95" y1="99.50" x2="365.95" y2="108.68" stroke="#000" stroke-opacity="0.24" stroke-width="0.95"/>
<line x1="386.90" y1="95.99" x2="386.90" y2="99.50" stroke="#505050" stroke-width="0.9"/>
<line x1="386.90" y1="103.55" x2="386.90" y2="111.11" stroke="#505050" stroke-width="0.9"/>
<line x1="386.90" y1="99.50" x2="386.90" y2="103.55" stroke="#000" stroke-opacity="0.24" stroke-width="0.95"/>
<text x="219.80" y="155.2" text-anchor="middle" font-size="7.6" fill="#1a1a1a" stroke="#1a1a1a" stroke-width="0.15">pw</text>
<text x="239.05" y="155.2" text-anchor="middle" font-size="7.6" fill="#1a1a1a" stroke="#1a1a1a" stroke-width="0.15">incl</text>
<text x="259.20" y="155.2" text-anchor="middle" font-size="7.6" fill="#1a1a1a" stroke="#1a1a1a" stroke-width="0.15">excl</text>
<text x="280.65" y="155.2" text-anchor="middle" font-size="7.6" fill="#1a1a1a" stroke="#1a1a1a" stroke-width="0.15">pw</text>
<text x="303.10" y="155.2" text-anchor="middle" font-size="7.6" fill="#1a1a1a" stroke="#1a1a1a" stroke-width="0.15">incl</text>
<text x="324.05" y="155.2" text-anchor="middle" font-size="7.6" fill="#1a1a1a" stroke="#1a1a1a" stroke-width="0.15">excl</text>
<text x="345.00" y="155.2" text-anchor="middle" font-size="7.6" fill="#1a1a1a" stroke="#1a1a1a" stroke-width="0.15">pw</text>
<text x="365.95" y="155.2" text-anchor="middle" font-size="7.6" fill="#1a1a1a" stroke="#1a1a1a" stroke-width="0.15">incl</text>
<text x="386.10" y="155.2" text-anchor="middle" font-size="7.6" fill="#1a1a1a" stroke="#1a1a1a" stroke-width="0.15">excl</text>
<text x="240.25" y="167.2" text-anchor="middle" font-size="7.6" font-weight="bold" fill="#111">HC</text>
<text x="303.10" y="167.2" text-anchor="middle" font-size="7.6" font-weight="bold" fill="#111">BPD</text>
<text x="365.95" y="167.2" text-anchor="middle" font-size="7.6" font-weight="bold" fill="#111">MD</text>
<line x1="208.4" y1="199.00" x2="208.4" y2="329.00" stroke="#4a4a4a" stroke-width="1"/>
<line x1="205.9" y1="199.00" x2="208.4" y2="199.00" stroke="#4a4a4a" stroke-width="0.8"/>
<text x="205.4" y="201.45" text-anchor="end" font-size="6.9" fill="#222">1</text>
<line x1="205.9" y1="231.50" x2="208.4" y2="231.50" stroke="#4a4a4a" stroke-width="0.8"/>
<text x="205.4" y="233.95" text-anchor="end" font-size="6.9" fill="#222">0.5</text>
<line x1="205.9" y1="264.00" x2="208.4" y2="264.00" stroke="#4a4a4a" stroke-width="0.8"/>
<text x="205.4" y="266.45" text-anchor="end" font-size="6.9" fill="#222">0</text>
<line x1="205.9" y1="296.50" x2="208.4" y2="296.50" stroke="#4a4a4a" stroke-width="0.8"/>
<text x="205.4" y="298.95" text-anchor="end" font-size="6.9" fill="#222">-0.5</text>
<line x1="205.9" y1="329.00" x2="208.4" y2="329.00" stroke="#4a4a4a" stroke-width="0.8"/>
<text x="205.4" y="331.45" text-anchor="end" font-size="6.9" fill="#222">-1</text>
<rect x="211.30" y="232.80" width="15.8" height="31.20" fill="#267cbc"/>
<rect x="232.35" y="264.00" width="15.8" height="30.88" fill="#267cbc"/>
<rect x="253.40" y="230.85" width="15.8" height="33.15" fill="#267cbc"/>
<rect x="274.45" y="264.00" width="15.8" height="10.73" fill="#ed1e27"/>
<rect x="295.50" y="224.22" width="15.8" height="39.78" fill="#ed1e27"/>
<rect x="316.55" y="245.15" width="15.8" height="18.85" fill="#ed1e27"/>
<rect x="337.60" y="255.88" width="15.8" height="8.12" fill="#1f9287"/>
<rect x="358.65" y="249.05" width="15.8" height="14.95" fill="#1f9287"/>
<rect x="379.70" y="264.00" width="15.8" height="5.72" fill="#1f9287"/>
<line x1="208.4" y1="264" x2="399" y2="264" stroke="#3a3a3a" stroke-width="1"/>
<line x1="219.20" y1="213.95" x2="219.20" y2="232.80" stroke="#505050" stroke-width="0.9"/>
<line x1="219.20" y1="232.80" x2="219.20" y2="251.65" stroke="#000" stroke-opacity="0.24" stroke-width="0.95"/>
<line x1="240.25" y1="294.88" x2="240.25" y2="312.43" stroke="#505050" stroke-width="0.9"/>
<line x1="240.25" y1="277.32" x2="240.25" y2="294.88" stroke="#000" stroke-opacity="0.24" stroke-width="0.95"/>
<line x1="261.30" y1="215.57" x2="261.30" y2="230.85" stroke="#505050" stroke-width="0.9"/>
<line x1="261.30" y1="230.85" x2="261.30" y2="246.12" stroke="#000" stroke-opacity="0.24" stroke-width="0.95"/>
<line x1="282.35" y1="260.43" x2="282.35" y2="264.00" stroke="#505050" stroke-width="0.9"/>
<line x1="282.35" y1="274.73" x2="282.35" y2="289.02" stroke="#505050" stroke-width="0.9"/>
<line x1="282.35" y1="264.00" x2="282.35" y2="274.73" stroke="#000" stroke-opacity="0.24" stroke-width="0.95"/>
<line x1="303.40" y1="206.67" x2="303.40" y2="224.22" stroke="#505050" stroke-width="0.9"/>
<line x1="303.40" y1="224.22" x2="303.40" y2="241.77" stroke="#000" stroke-opacity="0.24" stroke-width="0.95"/>
<line x1="324.45" y1="232.80" x2="324.45" y2="245.15" stroke="#505050" stroke-width="0.9"/>
<line x1="324.45" y1="245.15" x2="324.45" y2="257.50" stroke="#000" stroke-opacity="0.24" stroke-width="0.95"/>
<line x1="345.50" y1="237.68" x2="345.50" y2="255.88" stroke="#505050" stroke-width="0.9"/>
<line x1="345.50" y1="264.00" x2="345.50" y2="274.07" stroke="#505050" stroke-width="0.9"/>
<line x1="345.50" y1="255.88" x2="345.50" y2="264.00" stroke="#000" stroke-opacity="0.24" stroke-width="0.95"/>
<line x1="366.55" y1="240.28" x2="366.55" y2="249.05" stroke="#505050" stroke-width="0.9"/>
<line x1="366.55" y1="249.05" x2="366.55" y2="257.82" stroke="#000" stroke-opacity="0.24" stroke-width="0.95"/>
<line x1="387.60" y1="253.47" x2="387.60" y2="264.00" stroke="#505050" stroke-width="0.9"/>
<line x1="387.60" y1="269.72" x2="387.60" y2="285.97" stroke="#505050" stroke-width="0.9"/>
<line x1="387.60" y1="264.00" x2="387.60" y2="269.72" stroke="#000" stroke-opacity="0.24" stroke-width="0.95"/>
<text x="219.70" y="334.4" text-anchor="middle" font-size="7.6" fill="#1a1a1a" stroke="#1a1a1a" stroke-width="0.15">pw</text>
<text x="239.05" y="334.4" text-anchor="middle" font-size="7.6" fill="#1a1a1a" stroke="#1a1a1a" stroke-width="0.15">incl</text>
<text x="259.30" y="334.4" text-anchor="middle" font-size="7.6" fill="#1a1a1a" stroke="#1a1a1a" stroke-width="0.15">excl</text>
<text x="280.85" y="334.4" text-anchor="middle" font-size="7.6" fill="#1a1a1a" stroke="#1a1a1a" stroke-width="0.15">pw</text>
<text x="303.40" y="334.4" text-anchor="middle" font-size="7.6" fill="#1a1a1a" stroke="#1a1a1a" stroke-width="0.15">incl</text>
<text x="324.45" y="334.4" text-anchor="middle" font-size="7.6" fill="#1a1a1a" stroke="#1a1a1a" stroke-width="0.15">excl</text>
<text x="345.50" y="334.4" text-anchor="middle" font-size="7.6" fill="#1a1a1a" stroke="#1a1a1a" stroke-width="0.15">pw</text>
<text x="366.55" y="334.4" text-anchor="middle" font-size="7.6" fill="#1a1a1a" stroke="#1a1a1a" stroke-width="0.15">incl</text>
<text x="386.80" y="334.4" text-anchor="middle" font-size="7.6" fill="#1a1a1a" stroke="#1a1a1a" stroke-width="0.15">excl</text>
<text x="240.25" y="346.6" text-anchor="middle" font-size="7.6" font-weight="bold" fill="#111">HC</text>
<text x="303.40" y="346.6" text-anchor="middle" font-size="7.6" font-weight="bold" fill="#111">BPD</text>
<text x="366.55" y="346.6" text-anchor="middle" font-size="7.6" font-weight="bold" fill="#111">MD</text>
<g fill="none" stroke="#262626" stroke-width="1">
<path d="M221.3 50.3H240.5M232.5 50.3V41H255.5M267 41H289.5V50.3M279.3 50.3H297.5"/>
<path d="M279.3 36.5H298M289.5 36.5V27.8H317.5M329.5 27.8H355.5V36.5M345.5 36.5H364.5"/>
</g>
<text x="261.3" y="46.6" text-anchor="middle" font-size="10" font-weight="bold" fill="#111">*</text>
<text x="323.4" y="33.4" text-anchor="middle" font-size="10" font-weight="bold" fill="#111">*</text>

</svg>
</body></html>
